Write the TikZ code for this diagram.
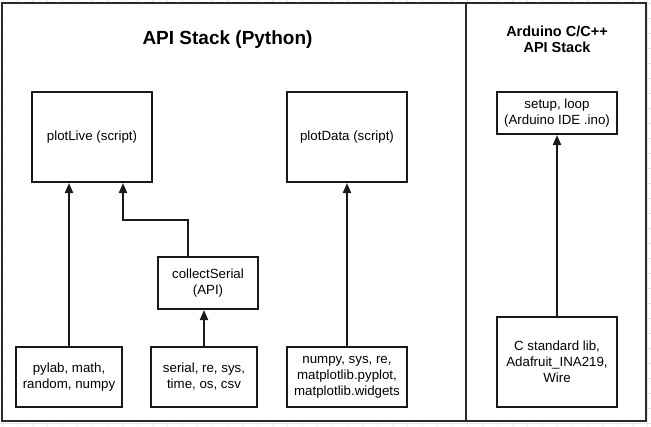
\documentclass[tikz,border=0pt]{standalone}
\usepackage{fontspec}
\setmainfont{Liberation Sans}
\usetikzlibrary{arrows.meta}
\definecolor{gridc}{HTML}{E6E6E6}
\definecolor{panelc}{HTML}{2B2B2B}
\tikzset{
  panel/.style={draw=panelc, line width=2pt, fill=white},
  libbox/.style={draw=black!90, line width=2pt, fill=white, rectangle, inner sep=0pt,
    align=center, font=\fontsize{13.3pt}{16pt}\selectfont},
  arr/.style={draw=black!90, line width=2pt, -{Triangle[length=10pt,width=8pt]}},
  ttl/.style={font=\bfseries, align=center}
}
\begin{document}
\begin{tikzpicture}[x=1pt,y=-1pt]
\useasboundingbox (0,0) rectangle (651,426);
\fill[white] (0,0) rectangle (651,426);
% faint background grid
\foreach \gx in {2.5,17.5,...,651} {\draw[gridc, line width=0.6pt] (\gx,0) -- (\gx,426);}
\foreach \gy in {3,18,...,426} {\draw[gridc, line width=0.6pt] (0,\gy) -- (651,\gy);}
% panels
\draw[panel] (2,3) rectangle (466,421);
\draw[panel] (466,3) rectangle (646,421);
% titles
\node[ttl, anchor=base, font=\fontsize{19pt}{22pt}\selectfont\bfseries] (t1) at (227.5,44) {API Stack (Python)};
\node[ttl, anchor=base, font=\fontsize{14.5pt}{16pt}\selectfont\bfseries] (t2) at (557,36) {Arduino C/C++};
\node[ttl, anchor=base, font=\fontsize{14.5pt}{16pt}\selectfont\bfseries] (t3) at (557,52) {API Stack};
% boxes
\node[libbox, minimum width=120pt, minimum height=90pt] (plotLive) at (92,137) {plotLive (script)};
\node[libbox, minimum width=120pt, minimum height=90pt] (plotData) at (347,137) {plotData (script)};
\node[libbox, minimum width=120pt, minimum height=42pt] (setup) at (557,113) {setup, loop\\(Arduino IDE .ino)};
\node[libbox, minimum width=100pt, minimum height=52pt] (collect) at (208,283) {collectSerial\\(API)};
\node[libbox, minimum width=106pt, minimum height=60pt] (pylab) at (69,377) {pylab, math,\\random, numpy};
\node[libbox, minimum width=106pt, minimum height=60pt] (serial) at (204,377) {serial, re, sys,\\time, os, csv};
\node[libbox, minimum width=120pt, minimum height=60pt] (numpy) at (347,377) {numpy, sys, re,\\matplotlib.pyplot,\\matplotlib.widgets};
\node[libbox, minimum width=120pt, minimum height=90pt] (cstd) at (557,362) {C standard lib,\\Adafruit\_INA219,\\Wire};
% connectors
\coordinate (e1) at (188,220);
\coordinate (e2) at (123,220);
\draw[arr] (pylab.north) -- (pylab.north |- plotLive.south);
\draw[arr] (collect.north -| e1) -- (e1) -- (e2) -- (e2 |- plotLive.south);
\draw[arr] (serial.north) -- (serial.north |- collect.south);
\draw[arr] (numpy.north) -- (numpy.north |- plotData.south);
\draw[arr] (cstd.north) -- (cstd.north |- setup.south);
\end{tikzpicture}
\end{document}
